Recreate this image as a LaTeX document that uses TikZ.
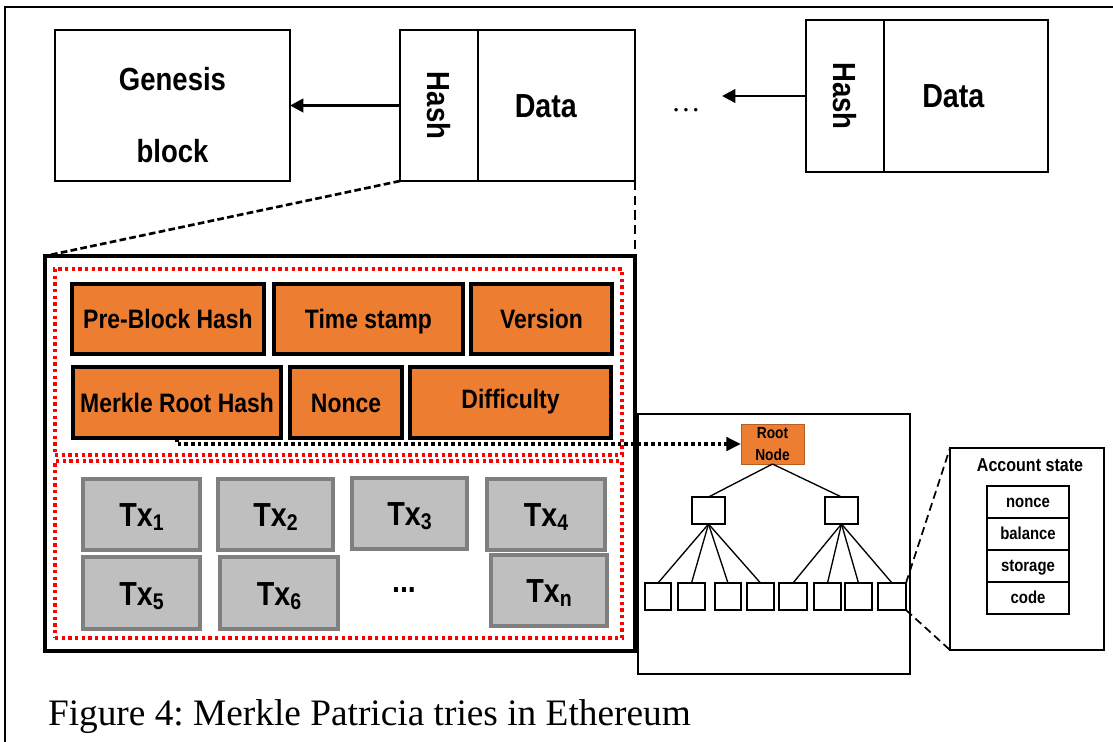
\documentclass[tikz,border=0pt]{standalone}
\usepackage{fontspec}
\setmainfont{Liberation Serif}
\newfontfamily\cf[FakeStretch=0.86]{Liberation Sans}
\usetikzlibrary{arrows.meta}
\definecolor{orng}{HTML}{ED7D31}
\definecolor{gfill}{HTML}{BFBFBF}
\definecolor{gbord}{HTML}{7F7F7F}
\newcommand\txsub[2]{#1\raisebox{-3pt}{\fontsize{17}{17}\selectfont #2}}
% \bx{name}{x1}{y1}{x2}{y2}{style}{text}
\newcommand\bx[7]{\node[#6, minimum width={(#4-#2)*0.75pt}, minimum height={(#5-#3)*0.75pt}] (#1) at ({(#2+#4)/2},{(#3+#5)/2}) {#7};}
\frenchspacing
\begin{document}
\begin{tikzpicture}[x=0.75pt,y=-0.75pt,
  every node/.style={inner sep=0pt, outer sep=0pt},
  blk/.style={draw, line width=1.6pt, text height=18pt, text depth=0pt, font=\cf\bfseries\fontsize{25}{30}\selectfont},
  hashtxt/.style={rotate=-90, text height=17pt, text depth=0pt, font=\cf\bfseries\fontsize{24}{26}\selectfont},
  arr/.style={line width=2.2pt, -{Triangle[length=10pt,width=10pt]}},
  bigbox/.style={draw, line width=2.4pt},
  reddot/.style={draw=red, line width=2.6pt, dash pattern=on 2.6pt off 2.4pt},
  obox/.style={draw, fill=orng, line width=2.3pt, text height=14.4pt, text depth=0pt, font=\cf\bfseries\fontsize{20}{24}\selectfont},
  gbox/.style={draw=gbord, fill=gfill, line width=2.6pt, text height=18pt, text depth=0pt, font=\cf\bfseries\fontsize{25}{30}\selectfont},
  blkdot/.style={line width=2.6pt, dash pattern=on 2.8pt off 2.2pt},
  tn/.style={draw, line width=1.1pt},
  tedge/.style={line width=1pt},
  thin/.style={draw, line width=0.9pt},
  zoomdash/.style={line width=1.3pt, dash pattern=on 6pt off 3.5pt},
  rowbox/.style={draw, line width=0.9pt, text height=9.4pt, text depth=1.3pt, font=\cf\bfseries\fontsize{13}{15}\selectfont}
]
\useasboundingbox (0,0) rectangle (1113,742);
\fill[white] (0,0) rectangle (1113,742);
% outer frame (top and left visible)
\draw[line width=1.5pt] (5,742) -- (5,7) -- (1113,7);

% chain of blocks
\bx{gen}{55}{30}{290}{181}{draw, line width=1.6pt, align=center, text height=86pt, text depth=0pt, font=\cf\bfseries\fontsize{24}{54}\selectfont}{Genesis\\block}
\bx{h2}{400}{30}{478}{181}{blk}{}
\node[hashtxt] (h2t) at (h2.center) {Hash};
\bx{d2}{478}{30}{635}{181}{blk}{Data\hspace*{16pt}}
\node[font=\fontsize{22}{24}\selectfont] (dots) at (686,110) {\dots};
\coordinate (a3end) at (722,96);
\bx{h3}{806}{20}{884}{172}{blk}{}
\node[hashtxt] (h3t) at (h3.center) {Hash};
\bx{d3}{884}{20}{1048}{172}{blk}{Data\hspace*{19pt}}
\draw[arr] (h2.west) -- (gen.east);
\draw[arr] (h3.west) -- (a3end);

% expanded block
\bx{mbox}{45}{256}{635}{651}{bigbox}{}
\draw[line width=2pt, dash pattern=on 5pt off 2.5pt] (h2.south west) -- (mbox.north west);
\draw[line width=1.2pt, dash pattern=on 7pt off 4pt] (d2.south east) -- (mbox.north east);
\bx{hdr}{55}{269}{622}{455}{reddot}{}
\bx{txs}{55}{461}{622}{638}{reddot}{}

\bx{pbh}{72}{284}{264}{354}{obox}{Pre-Block Hash}
\bx{ts}{274}{284}{463}{354}{obox}{Time stamp}
\bx{ver}{471}{284}{612}{354}{obox}{Version}
\bx{mrh}{73}{367}{281}{438}{obox}{Merkle Root Hash}
\bx{non}{290}{367}{402}{438}{obox}{Nonce}
\bx{dif}{410}{367}{611}{438}{obox}{\raisebox{3pt}{Difficulty}}

\bx{tx1}{83}{479}{200}{550}{gbox}{\txsub{Tx}{1}}
\bx{tx2}{218}{479}{333}{550}{gbox}{\txsub{Tx}{2}}
\bx{tx3}{352}{478}{467}{549}{gbox}{\txsub{Tx}{3}}
\bx{tx4}{487}{479}{605}{550}{gbox}{\txsub{Tx}{4}}
\bx{tx5}{83}{557}{200}{629}{gbox}{\txsub{Tx}{5}}
\bx{tx6}{220}{557}{338}{629}{gbox}{\txsub{Tx}{6}}
\node[font=\cf\bfseries\fontsize{25}{30}\selectfont] (txdots) at (404,590) {...};
\bx{txn}{491}{555}{607}{626}{gbox}{\txsub{Tx}{n}}

% trie
\bx{tree}{638}{414}{910}{674}{thin}{}
\bx{root}{741}{424}{804}{464}{fill=orng, draw=orng!75!black, line width=0.5pt, align=center, font=\cf\bfseries\fontsize{12}{16}\selectfont}{Root\\Node}
\draw[blkdot, -{Triangle[length=11pt,width=10pt]}] (mrh.south) |- (root.west);
\bx{m1}{692}{497}{725}{524}{tn}{}
\bx{m2}{825}{497}{858}{524}{tn}{}
\bx{l1}{645}{583}{671}{610}{tn}{}
\bx{l2}{678}{583}{705}{610}{tn}{}
\bx{l3}{715}{583}{741}{610}{tn}{}
\bx{l4}{747}{583}{774}{610}{tn}{}
\bx{l5}{779}{583}{807}{610}{tn}{}
\bx{l6}{814}{583}{841}{610}{tn}{}
\bx{l7}{845}{583}{872}{610}{tn}{}
\bx{l8}{878}{583}{906}{610}{tn}{}
\draw[tedge] (root.south) -- (m1.north);
\draw[tedge] (root.south) -- (m2.north);
\foreach \l in {l1,l2,l3,l4} \draw[tedge] (m1.south) -- (\l.north);
\foreach \l in {l5,l6,l7,l8} \draw[tedge] (m2.south) -- (\l.north);

% account state
\bx{acc}{950}{448}{1104}{650}{thin, line width=1.1pt}{}
\node[font=\cf\bfseries\fontsize{14}{16}\selectfont] (acct) at (1030,465) {Account state};
\bx{r1}{987}{486}{1069}{518}{rowbox}{nonce}
\bx{r2}{987}{518}{1069}{550}{rowbox}{balance}
\bx{r3}{987}{550}{1069}{582}{rowbox}{storage}
\bx{r4}{987}{582}{1069}{614}{rowbox}{code}
\draw[zoomdash] (l8.north east) -- (acc.north west);
\draw[zoomdash] (l8.south east) -- (acc.south west);

% caption
\node[anchor=base west, font=\fontsize{28}{32}\selectfont] (cap) at (48,725) {Figure 4: Merkle Patricia tries in Ethereum};
\end{tikzpicture}
\end{document}
